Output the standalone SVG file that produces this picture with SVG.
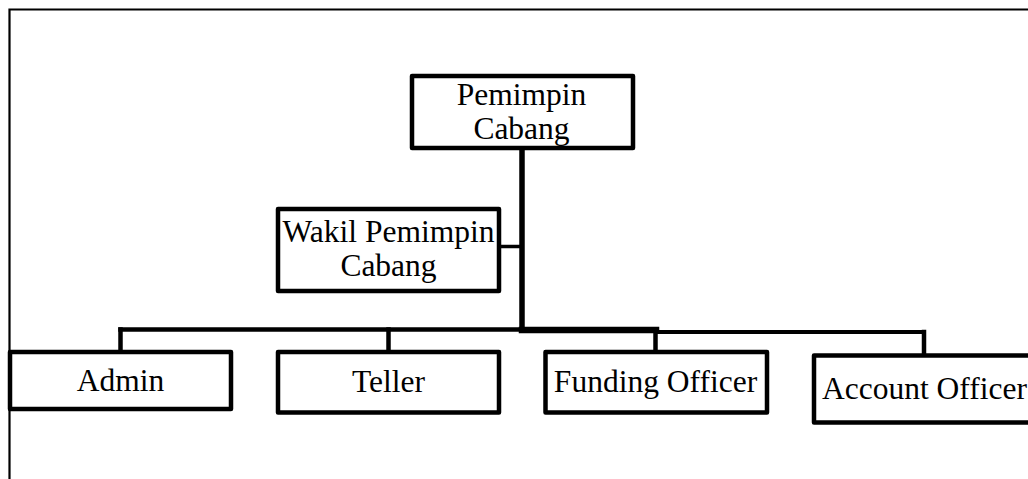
<svg xmlns="http://www.w3.org/2000/svg" width="1028" height="479" viewBox="0 0 1028 479">
<style>
.box{fill:#fff;stroke:#000;stroke-width:4.5;stroke-linejoin:round}
.lbl{font-family:"Liberation Serif","Times New Roman",serif;font-size:31.5px;fill:#000;text-anchor:middle}
.ln{stroke:#000;fill:none;stroke-linecap:square}
</style>
<rect width="1028" height="479" fill="#fff"/>
<g id="frame"><path d="M9.5,479 V9.5 H1028" fill="none" stroke="#000" stroke-width="2.2"/></g>
<g id="connectors">
<line class="ln" x1="522" y1="148" x2="522" y2="329" stroke-width="5.5"/>
<line class="ln" x1="499" y1="246.5" x2="521" y2="246.5" stroke-width="3.5"/>
<line class="ln" x1="120.5" y1="329.5" x2="522" y2="329.5" stroke-width="4.5"/>
<line class="ln" x1="522" y1="330" x2="656" y2="330" stroke-width="6.5"/>
<line class="ln" x1="656" y1="332" x2="924" y2="332" stroke-width="4"/>
<line class="ln" x1="120.5" y1="329.5" x2="120.5" y2="352" stroke-width="4.5"/>
<line class="ln" x1="388.5" y1="329.5" x2="388.5" y2="352" stroke-width="4.5"/>
<line class="ln" x1="655.5" y1="330" x2="655.5" y2="352" stroke-width="4.5"/>
<line class="ln" x1="924" y1="332" x2="924" y2="355" stroke-width="4.5"/>
</g>
<g id="pemimpin"><rect class="box" x="412" y="76" width="221" height="72"/><text class="lbl" x="521.5" y="105">Pemimpin</text><text class="lbl" x="521.5" y="139">Cabang</text></g>
<g id="wakil"><rect class="box" x="278" y="209" width="221" height="82"/><text class="lbl" x="388.5" y="242">Wakil Pemimpin</text><text class="lbl" x="388.5" y="276">Cabang</text></g>
<g id="admin"><rect class="box" x="10" y="352" width="221" height="57"/><text class="lbl" x="120.5" y="391">Admin</text></g>
<g id="teller"><rect class="box" x="278" y="352" width="221" height="60.5"/><text class="lbl" x="388.5" y="392">Teller</text></g>
<g id="funding"><rect class="box" x="545.5" y="352" width="221.5" height="60.5"/><text class="lbl" x="655.5" y="392">Funding Officer</text></g>
<g id="account"><rect class="box" x="814" y="355.5" width="221" height="67"/><text class="lbl" x="924.5" y="399">Account Officer</text></g>
</svg>
